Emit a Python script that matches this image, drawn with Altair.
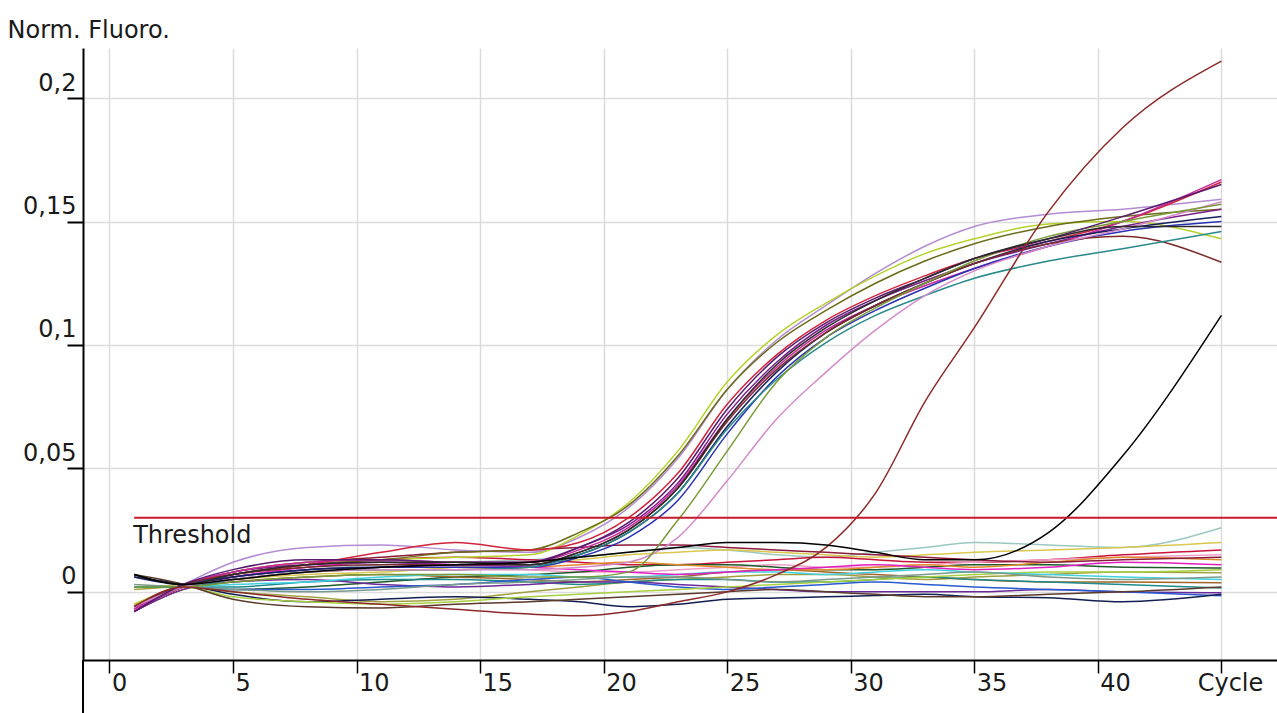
import altair as alt
import pandas as pd

CYCLES = [1, 3, 5, 8, 11, 14, 17, 19, 21, 23, 25, 27, 29, 31, 33, 35, 38, 41, 45]

# ---- amplifying samples ----
A01 = [-0.007, 0.003, 0.012, 0.018, 0.019, 0.017, 0.016, 0.022, 0.034, 0.054, 0.082, 0.102, 0.116, 0.129, 0.140, 0.148, 0.153, 0.155, 0.159]
A02 = [-0.005, 0.003, 0.008, 0.012, 0.013, 0.014, 0.015, 0.023, 0.036, 0.057, 0.085, 0.104, 0.117, 0.128, 0.137, 0.143, 0.149, 0.150, 0.143]
A03 = [0.007, 0.003, 0.007, 0.011, 0.013, 0.016, 0.017, 0.024, 0.035, 0.055, 0.082, 0.101, 0.114, 0.125, 0.134, 0.141, 0.148, 0.152, 0.155]
A04 = [-0.006, 0.003, 0.007, 0.011, 0.016, 0.020, 0.017, 0.020, 0.030, 0.048, 0.076, 0.096, 0.110, 0.120, 0.128, 0.135, 0.142, 0.150, 0.166]
A05 = [-0.008, 0.003, 0.008, 0.011, 0.012, 0.011, 0.012, 0.018, 0.027, 0.044, 0.072, 0.093, 0.108, 0.118, 0.126, 0.133, 0.141, 0.148, 0.155]
A06 = [-0.007, 0.003, 0.008, 0.012, 0.013, 0.012, 0.012, 0.017, 0.026, 0.043, 0.070, 0.091, 0.106, 0.116, 0.124, 0.131, 0.140, 0.150, 0.167]
A07 = [-0.006, 0.003, 0.006, 0.009, 0.010, 0.010, 0.010, 0.014, 0.022, 0.037, 0.064, 0.087, 0.103, 0.114, 0.123, 0.131, 0.140, 0.146, 0.150]
A08 = [0.006, 0.003, 0.006, 0.009, 0.010, 0.011, 0.011, 0.015, 0.024, 0.040, 0.067, 0.089, 0.105, 0.116, 0.125, 0.133, 0.142, 0.147, 0.152]
A09 = [-0.006, 0.003, 0.007, 0.010, 0.011, 0.011, 0.011, 0.016, 0.025, 0.042, 0.069, 0.090, 0.105, 0.116, 0.125, 0.133, 0.141, 0.144, 0.1335]
A10 = [0.002, 0.002, 0.005, 0.008, 0.009, 0.009, 0.010, 0.015, 0.024, 0.040, 0.066, 0.086, 0.101, 0.112, 0.120, 0.127, 0.134, 0.139, 0.146]
A11 = [-0.006, 0.002, 0.005, 0.008, 0.009, 0.009, 0.009, 0.010, 0.012, 0.022, 0.045, 0.070, 0.089, 0.106, 0.120, 0.130, 0.140, 0.147, 0.158]
A12 = [0.002, 0.002, 0.004, 0.006, 0.007, 0.007, 0.006, 0.006, 0.008, 0.029, 0.057, 0.085, 0.103, 0.115, 0.125, 0.134, 0.144, 0.150, 0.157]
A13 = [-0.008, 0.003, 0.009, 0.013, 0.013, 0.012, 0.012, 0.018, 0.028, 0.046, 0.074, 0.095, 0.109, 0.119, 0.127, 0.135, 0.143, 0.152, 0.165]
A14 = [0.007, 0.003, 0.007, 0.011, 0.012, 0.012, 0.011, 0.016, 0.025, 0.042, 0.070, 0.092, 0.107, 0.118, 0.127, 0.135, 0.143, 0.148, 0.148]

# ---- late samples ----
L01 = [-0.006, 0.002, 0.000, -0.003, -0.005, -0.007, -0.009, -0.0097, -0.008, -0.004, 0.000, 0.007, 0.018, 0.040, 0.077, 0.107, 0.154, 0.188, 0.215]
L02 = [0.007, 0.003, 0.005, 0.008, 0.010, 0.011, 0.012, 0.014, 0.016, 0.018, 0.020, 0.020, 0.019, 0.016, 0.013, 0.013, 0.024, 0.055, 0.112]

# ---- flat samples ----
F01 = [0.002, 0.003, 0.006, 0.009, 0.011, 0.012, 0.013, 0.014, 0.016, 0.018, 0.017, 0.015, 0.014, 0.016, 0.018, 0.020, 0.019, 0.018, 0.026]
F02 = [0.002, 0.003, 0.005, 0.007, 0.008, 0.010, 0.012, 0.013, 0.015, 0.016, 0.017, 0.016, 0.015, 0.014, 0.015, 0.016, 0.017, 0.018, 0.020]
F03 = [-0.007, 0.002, 0.007, 0.011, 0.013, 0.014, 0.013, 0.012, 0.011, 0.011, 0.012, 0.013, 0.014, 0.013, 0.012, 0.012, 0.013, 0.015, 0.017]
F04 = [-0.006, 0.002, 0.006, 0.009, 0.010, 0.010, 0.009, 0.008, 0.008, 0.009, 0.010, 0.011, 0.010, 0.010, 0.011, 0.012, 0.013, 0.014, 0.015]
F05 = [0.002, 0.002, 0.001, 0.002, 0.004, 0.006, 0.007, 0.008, 0.010, 0.011, 0.011, 0.010, 0.009, 0.009, 0.010, 0.011, 0.011, 0.010, 0.0097]
F06 = [0.001, 0.002, 0.000, -0.002, -0.004, -0.003, 0.000, 0.002, 0.004, 0.005, 0.006, 0.007, 0.007, 0.006, 0.005, 0.006, 0.007, 0.008, 0.0077]
F07 = [-0.008, 0.001, 0.004, 0.006, 0.007, 0.006, 0.005, 0.004, 0.005, 0.006, 0.008, 0.009, 0.008, 0.007, 0.006, 0.005, 0.004, 0.004, 0.0037]
F08 = [0.002, 0.002, 0.002, 0.004, 0.005, 0.005, 0.004, 0.003, 0.004, 0.005, 0.005, 0.004, 0.004, 0.005, 0.006, 0.005, 0.004, 0.003, 0.0016]
F09 = [-0.008, 0.001, 0.004, 0.005, 0.003, 0.002, 0.003, 0.004, 0.004, 0.003, 0.002, 0.001, 0.000, 0.000, 0.000, 0.000, 0.001, 0.000, -0.0004]
F10 = [0.002, 0.002, 0.001, 0.001, 0.002, 0.003, 0.005, 0.006, 0.004, 0.002, 0.001, 0.002, 0.003, 0.004, 0.003, 0.002, 0.001, 0.000, -0.0016]
F11 = [0.006, 0.003, -0.001, -0.004, -0.003, -0.002, -0.003, -0.004, -0.006, -0.005, -0.003, -0.0025, -0.002, -0.0015, -0.001, -0.002, -0.0024, -0.004, -0.001]
F12 = [0.002, 0.002, -0.002, -0.004, -0.005, -0.004, -0.002, -0.001, 0.000, 0.001, 0.002, 0.003, 0.004, 0.005, 0.006, 0.007, 0.008, 0.008, 0.009]
F13 = [0.007, 0.003, -0.003, -0.006, -0.0065, -0.005, -0.004, -0.003, -0.002, -0.001, 0.000, 0.001, 0.000, -0.001, -0.002, -0.002, -0.001, 0.000, 0.002]
F14 = [0.002, 0.002, 0.003, 0.004, 0.006, 0.007, 0.007, 0.006, 0.006, 0.007, 0.008, 0.008, 0.007, 0.008, 0.009, 0.008, 0.007, 0.006, 0.005]
F15 = [-0.005, 0.002, 0.005, 0.008, 0.009, 0.009, 0.010, 0.011, 0.012, 0.011, 0.010, 0.009, 0.009, 0.010, 0.011, 0.010, 0.012, 0.014, 0.013]
F16 = [-0.007, 0.002, 0.006, 0.010, 0.012, 0.011, 0.010, 0.009, 0.008, 0.007, 0.008, 0.009, 0.010, 0.011, 0.010, 0.009, 0.010, 0.012, 0.011]
F17 = [0.003, 0.002, 0.001, 0.000, 0.001, 0.003, 0.004, 0.005, 0.006, 0.006, 0.005, 0.004, 0.005, 0.006, 0.007, 0.008, 0.006, 0.005, 0.006]
F18 = [-0.006, 0.002, 0.008, 0.012, 0.014, 0.016, 0.017, 0.018, 0.019, 0.019, 0.018, 0.017, 0.016, 0.015, 0.014, 0.013, 0.012, 0.013, 0.014]

SERIES_NAMES = ["F01", "F02", "F03", "F04", "F05", "F06", "F07", "F08", "F09", "F10",
                "F11", "F12", "F13", "F14", "F15", "F16", "F17", "F18",
                "A01", "A02", "A03", "A04", "A05", "A06", "A07", "A08", "A09", "A10",
                "A11", "A12", "A13", "A14", "L01", "L02"]
SERIES_VALUES = [F01, F02, F03, F04, F05, F06, F07, F08, F09, F10,
                 F11, F12, F13, F14, F15, F16, F17, F18,
                 A01, A02, A03, A04, A05, A06, A07, A08, A09, A10,
                 A11, A12, A13, A14, L01, L02]
COLORS = ["#9cc8c0", "#d8c850", "#c8143c", "#f0a0c8", "#1f5a2a", "#a0a040", "#a0642a", "#1f8a8a", "#6a2a9a", "#2a5ad0",
          "#141e50", "#a8d040", "#5a3a2a", "#40d0e0", "#e08a2a", "#e020c0", "#7a9a8a", "#8a1a3a",
          "#b48cd2", "#b5d22a", "#6b6b1a", "#d0243c", "#7a1f8c", "#c8289a", "#2830b4", "#1a1f5e", "#7a2a2a", "#2a8a8a",
          "#d48cc8", "#7a9a3a", "#5a1a6e", "#2a2a2a", "#8b2a2a", "#000000"]

X_TICKS = [0, 5, 10, 15, 20, 25, 30, 35, 40, 45]
Y_TICKS = [0, 0.05, 0.1, 0.15, 0.2]
THRESHOLD = 0.030
THRESHOLD_START = 1
THRESHOLD_LABEL = "Threshold"
X_TITLE = "Cycle"
Y_TITLE = "Norm. Fluoro."

rows = []
for order, (name, vals) in enumerate(zip(SERIES_NAMES, SERIES_VALUES)):
    for c, v in zip(CYCLES, vals):
        rows.append({"name": name, "cycle": c, "value": v, "order": order})
df = pd.DataFrame(rows)

W = 1194
H = 612
FONT = "DejaVu Sans"
FS = 24
TXT = "#1a1a1a"

xscale = alt.Scale(domain=[-1.07, 47.25], nice=False, zero=False)
yscale = alt.Scale(domain=[-0.0276, 0.2203], nice=False, zero=False)

xaxis = alt.Axis(
    values=X_TICKS, title=X_TITLE, grid=True, gridColor="#dcdcdc", gridWidth=1.5,
    domainColor="#000", domainWidth=2, tickColor="#000", tickWidth=1.5, tickSize=13,
    labelAlign="left", labelBaseline="alphabetic", labelPadding=17, labelOffset=2,
    labelFont=FONT, labelFontSize=FS, labelColor=TXT, labelFlush=False, labelOverlap=False,
    labelExpr="datum.value == 45 ? '' : datum.label",
    titleFont=FONT, titleFontSize=FS, titleFontWeight="normal", titleColor=TXT,
    titleX=1147, titleY=30, titleAlign="center", titleBaseline="alphabetic",
)
yaxis = alt.Axis(
    values=Y_TICKS, title=Y_TITLE, grid=True, gridColor="#dcdcdc", gridWidth=1.5,
    domainColor="#000", domainWidth=2, tickColor="#000", tickWidth=2, tickSize=16,
    labelAlign="right", labelBaseline="alphabetic", labelPadding=-9, labelOffset=-8,
    labelFont=FONT, labelFontSize=FS, labelColor=TXT, labelFlush=False, labelOverlap=False,
    labelExpr="replace(format(datum.value, '.2~f'), '.', ',')",
    titleFont=FONT, titleFontSize=FS, titleFontWeight="normal", titleColor=TXT,
    titleAngle=0, titleX=-76, titleY=-11, titleAlign="left", titleBaseline="alphabetic",
)

lines = alt.Chart(df).mark_line(interpolate="monotone", strokeWidth=1.5, clip=True).encode(
    x=alt.X("cycle:Q", scale=xscale, axis=xaxis),
    y=alt.Y("value:Q", scale=yscale, axis=yaxis),
    color=alt.Color("name:N", scale=alt.Scale(domain=SERIES_NAMES, range=COLORS), legend=None),
    detail="name:N",
)

thr_df = pd.DataFrame({"cycle": [THRESHOLD_START], "value": [THRESHOLD], "label": [THRESHOLD_LABEL]})
thr_rule = alt.Chart(thr_df).mark_rule(color="#c41a2c", strokeWidth=2).encode(
    x=alt.X("cycle:Q"), x2=alt.value(W), y=alt.Y("value:Q"),
)
thr_text = alt.Chart(thr_df).mark_text(
    align="left", baseline="alphabetic", dy=25, dx=-1, font=FONT, fontSize=FS, color=TXT
).encode(x=alt.X("cycle:Q"), y=alt.Y("value:Q"), text="label:N")

yext = alt.Chart(pd.DataFrame({"a": [0]})).mark_rule(color="#000", strokeWidth=2).encode(
    x=alt.value(0), y=alt.value(H), y2=alt.value(H + 53)
)

chart = alt.layer(lines, thr_rule, thr_text, yext).properties(
    width=W, height=H,
    autosize=alt.AutoSizeParams(type="none"),
    padding={"left": 83, "top": 48, "right": 0, "bottom": 53},
    background="white",
).configure_view(strokeWidth=0)

chart.save("out.html", embed_options={"renderer": "svg", "actions": False})
